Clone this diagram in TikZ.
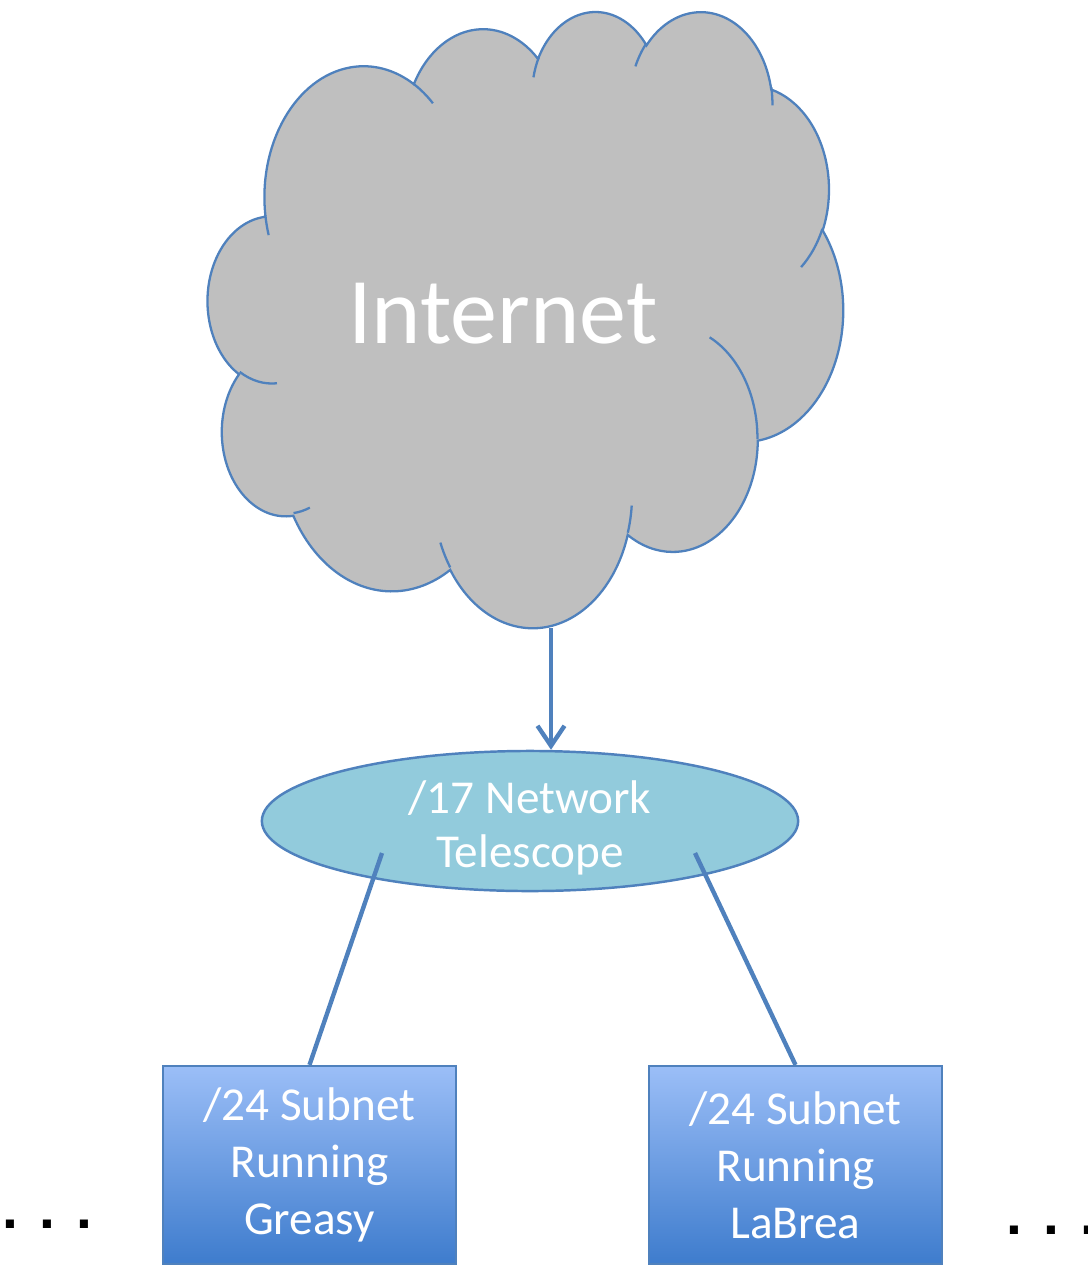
\documentclass[tikz,border=0pt]{standalone}
\usepackage{fontspec}
\setmainfont{Carlito}
\newfontfamily\dotfont{Liberation Sans}
\usetikzlibrary{shapes.geometric,arrows.meta}
\definecolor{lineblue}{RGB}{79,129,189}
\definecolor{cloudgray}{RGB}{191,191,191}
\definecolor{scopefill}{RGB}{146,203,220}
\definecolor{boxtop}{RGB}{155,190,247}
\definecolor{boxbottom}{RGB}{62,124,205}
% elliptic arc helper: visual start angle / sweep -> parametric start / delta
\newcommand\setarc[5]{%
  \pgfmathsetmacro\tmpS{atan2((#2)*sin(#4),(#3)*cos(#4))}%
  \pgfmathsetmacro\tmpE{atan2((#2)*sin((#4)+(#5)),(#3)*cos((#4)+(#5)))}%
  \pgfmathsetmacro\tmpD{mod(\tmpE-\tmpS+720,360)}%
  \expandafter\xdef\csname arc#1s\endcsname{\tmpS}%
  \expandafter\xdef\csname arc#1d\endcsname{\tmpD}%
  \expandafter\xdef\csname arc#1x\endcsname{#2}%
  \expandafter\xdef\csname arc#1y\endcsname{#3}%
}
\newcommand\lobe[1]{arc[start angle=\csname arc#1s\endcsname, delta angle=\csname arc#1d\endcsname,
  x radius=\csname arc#1x\endcsname, y radius=\csname arc#1y\endcsname]}
\begin{document}
\begin{tikzpicture}[x=0.01cm,y=-0.01cm,
  cloudline/.style={draw=lineblue,line width=0.65pt},
  conn/.style={draw=lineblue,line width=1.25pt},
  subnet/.style={rectangle,draw=lineblue,line width=0.6pt,top color=boxtop,bottom color=boxbottom,
    minimum width=2.93cm,minimum height=1.98cm,inner sep=0pt,align=center,text=white,
    font=\fontsize{0.472cm}{0.57cm}\selectfont},
  scopeshape/.style={ellipse,draw=lineblue,line width=0.7pt,fill=scopefill,
    minimum width=5.36cm,minimum height=1.40cm,inner sep=0pt},
  whitetext/.style={text=white,inner sep=0pt,align=center},
  dots/.style={inner sep=0pt,anchor=base,font=\dotfont\bfseries\fontsize{0.57cm}{0.6cm}\selectfont}]
\useasboundingbox (0,0) rectangle (1087,1266);
% outer lobes
\setarc{A}{675.3}{919.0}{-190.487483}{123.780533}
\setarc{B}{533.3}{726.7}{-144.102383}{89.945233}
\setarc{C}{436.5}{594.5}{-145.807917}{99.723017}
\setarc{D}{485.7}{659.5}{-130.986067}{117.241733}
\setarc{E}{533.3}{727.3}{-78.708883}{109.026917}
\setarc{F}{677.5}{922.0}{-46.26725}{130.269}
\setarc{G}{578.5}{786.7}{0.625017}{114.033333}
\setarc{H}{675.2}{921.5}{22.4516}{115.17255}
\setarc{I}{772.0}{1054.3}{66.242633}{75.711017}
\setarc{J}{436.0}{591.8}{-274.942083}{146.735567}
\setarc{K}{434.5}{594.5}{-246.8285}{152.51885}
% inner lobe strokes
\setarc{a}{434.5}{594.5}{86.742}{26.4295}
\setarc{b}{436.0}{591.8}{73.61047}{11.44747}
\setarc{c}{675.2}{921.5}{137.62415}{14.0811}
\setarc{d}{675.2}{921.5}{6.45327}{15.99835}
\setarc{e}{578.5}{786.7}{-70.29235}{70.91737}
\setarc{f}{533.3}{727.3}{30.31803}{27.7515}
\setarc{g}{485.7}{659.5}{-13.74433}{14.8589}
\setarc{h}{485.7}{659.5}{-149.18145}{18.19537}
\setarc{i}{436.5}{594.5}{-163.49427}{17.68635}
\setarc{j}{675.3}{919.0}{-66.70695}{12.31935}
\setarc{k}{675.3}{919.0}{157.65435}{11.85817}
\begin{scope}[shift={(208,10)},xscale=0.146991,yscale=0.142593]
  \filldraw[cloudline,fill=cloudgray] (390,1437)
    \lobe{A} \lobe{B} \lobe{C} \lobe{D} \lobe{E} \lobe{F}
    \lobe{G} \lobe{H} \lobe{I} \lobe{J} \lobe{K} -- cycle;
  \draw[cloudline]
    (469.3,2617.7) \lobe{a}
    (692.8,3489.9) \lobe{b}
    (1647.8,3909.0) \lobe{c}
    (2882.7,3475.1) \lobe{d}
    (3412.9,2295.4) \lobe{e}
    (4179.8,1535.4) \lobe{f}
    (3832.4,542.6) \lobe{g}
    (2907.8,395.2) \lobe{h}
    (2214.1,472.0) \lobe{i}
    (1400.0,519.2) \lobe{j}
    (412.7,1578.9) \lobe{k};
\end{scope}
\node[whitetext,anchor=base,font=\fontsize{0.94cm}{1.1cm}\selectfont] (internet) at (503,343) {Internet};
\coordinate (cloudbottom) at (551,628);
% telescope
\node[scopeshape] (scope) at (530,821) {};
\node[whitetext,font=\fontsize{0.472cm}{0.54cm}\selectfont] (scopetext) at (530,828) {/17 Network\\Telescope};
% subnets
\node[subnet] (greasy) at (309.5,1165) {/24 Subnet\\Running\\Greasy};
\node[subnet] (labrea) at (795.5,1165) {/24 Subnet\\Running\\LaBrea};
% connectors
\draw[conn,-{Straight Barb[length=0.2cm,width=0.27cm]}] (cloudbottom) -- (cloudbottom |- scope.north);
\coordinate (scopeL) at (382,853);
\coordinate (scopeR) at (695,853);
\draw[conn] (scopeL) -- (greasy.north);
\draw[conn] (scopeR) -- (labrea.north);
% continuation marks
\node[dots] (dotsL) at (47,1228) {. . .};
\node[dots] (dotsR) at (1051,1234) {. . .};
\end{tikzpicture}
\end{document}
